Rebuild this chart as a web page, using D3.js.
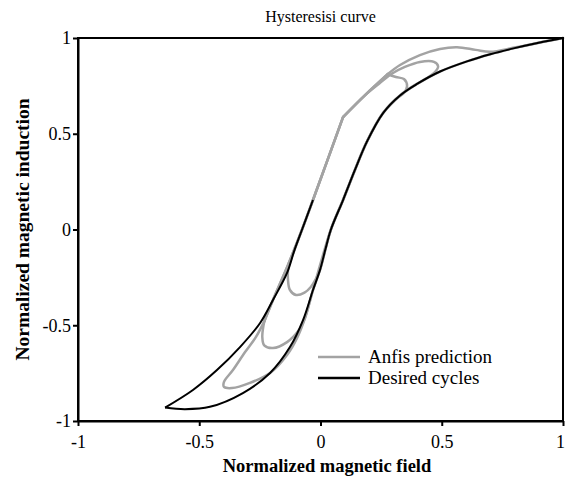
<!DOCTYPE html>
<html>
<head>
<meta charset="utf-8">
<script src="https://cdn.jsdelivr.net/npm/d3@7"></script>
<style>
    body { margin: 0; background: #fff; }
    text { font-family: "Liberation Serif", "Times New Roman", serif; fill: #000; }
</style>
</head>
<body>
<div id="chart"></div>
<script>
// desired cycles: descending branch (to the negative tip), then ascending branch up to saturation
var desiredDown = [[-0.031,0.154],[-0.076,0.0],[-0.108,-0.11],[-0.138,-0.227],[-0.196,-0.368],[-0.249,-0.488],
    [-0.332,-0.614],[-0.427,-0.734],[-0.526,-0.838],[-0.641,-0.930]];
var desiredUp = [[-0.641,-0.930],[-0.559,-0.938],[-0.456,-0.926],[-0.320,-0.854],[-0.208,-0.749],[-0.126,-0.614],
    [-0.072,-0.473],[-0.031,-0.316],[-0.002,-0.211],[0.02,-0.105],[0.043,0.0],[0.093,0.154],[0.142,0.311],[0.192,0.460],
    [0.258,0.608],[0.328,0.700],[0.398,0.760],[0.493,0.825],[0.604,0.878],[0.70,0.915],[0.80,0.947],[0.90,0.975],[1.0,1.0]];

// anfis prediction, one continuous path with minor loops
var anfisPrediction = [
    [1.0,1.0],[0.90,0.975],[0.80,0.950],[0.70,0.928],[0.640,0.938],[0.563,0.952],[0.493,0.943],[0.410,0.911],
    [0.328,0.859],[0.278,0.812],[0.184,0.702],[0.093,0.587],[-0.031,0.154],[-0.076,0.0],[-0.118,-0.144],[-0.132,-0.195],
    [-0.134,-0.264],[-0.126,-0.316],[-0.101,-0.342],[-0.066,-0.330],[-0.040,-0.300],[-0.020,-0.260],[-0.002,-0.211],
    [0.02,-0.105],[0.043,0.0],[0.093,0.154],[0.142,0.311],[0.192,0.460],[0.258,0.608],[0.328,0.700],[0.381,0.748],
    [0.431,0.785],[0.472,0.822],[0.485,0.852],[0.468,0.875],[0.410,0.875],[0.348,0.849],[0.299,0.817],[0.245,0.765],
    [0.184,0.702],[0.093,0.587],[-0.031,0.154],[-0.076,0.0],[-0.134,-0.185],[-0.196,-0.368],[-0.232,-0.480],
    [-0.240,-0.560],[-0.232,-0.605],[-0.196,-0.619],[-0.138,-0.588],[-0.089,-0.525],[-0.064,-0.462],[-0.031,-0.316],
    [-0.002,-0.211],[0.043,0.0],[0.093,0.154],[0.142,0.311],[0.192,0.460],[0.258,0.608],[0.311,0.681],
    [0.344,0.713],[0.357,0.749],[0.344,0.786],[0.311,0.796],[0.278,0.812],[0.184,0.702],[0.093,0.587],
    [-0.031,0.154],[-0.076,0.0],[-0.134,-0.185],[-0.196,-0.368],[-0.232,-0.480],
    [-0.266,-0.561],[-0.311,-0.640],[-0.361,-0.734],[-0.398,-0.796],[-0.398,-0.822],[-0.365,-0.828],[-0.291,-0.801],
    [-0.208,-0.749],[-0.138,-0.655],[-0.097,-0.567],[-0.064,-0.462],[-0.031,-0.316],[0.043,0.0],[0.093,0.154],
    [0.142,0.311],[0.192,0.460],[0.258,0.608],[0.328,0.700],[0.398,0.760],[0.493,0.825],[0.604,0.878],[0.70,0.915],
    [0.80,0.947],[0.90,0.975],[1.0,1.0]];
// sharp corners of the prediction (polyline kinks)
var anfisCorners = [[0.093,0.587],[0.278,0.812],[-0.232,-0.480]];

var xTicks = [-1, -0.5, 0, 0.5, 1];
var yTicks = [-1, -0.5, 0, 0.5, 1];
var legendLabels = ['Anfis prediction', 'Desired cycles'];
var legendColors = ['#a3a3a3', '#000'];

var width = 566, height = 481;
var margin = {top: 38, right: 3, bottom: 60, left: 78};

var svg = d3.select('#chart').append('svg')
    .attr('width', width)
    .attr('height', height);

var x = d3.scaleLinear().domain([-1, 1]).range([margin.left, width - margin.right]);
var y = d3.scaleLinear().domain([-1, 1]).range([height - margin.bottom, margin.top]);

var line = d3.line()
    .x(function(d){ return x(d[0]) })
    .y(function(d){ return y(d[1]) })
    .curve(d3.curveCatmullRom.alpha(0.5));

isCorner = function(p){
    return anfisCorners.some(function(c){ return c[0] == p[0] && c[1] == p[1] });
}

// cut the prediction at its corners so the smoothing keeps them sharp
var anfisPieces = [];
var piece = [];
anfisPrediction.forEach(function(p, i){
    piece.push(p);
    if (i > 0 && isCorner(p)) {
        anfisPieces.push(piece);
        piece = [p];
    }
});
anfisPieces.push(piece);

// anfis first, desired drawn over it
anfisPieces.forEach(function(seg){
    svg.append('path')
        .datum(seg)
        .attr('d', line)
        .attr('fill', 'none')
        .attr('stroke', legendColors[0])
        .attr('stroke-width', 2.5)
        .attr('stroke-linecap', 'round');
});

[desiredDown, desiredUp].forEach(function(branch){
    svg.append('path')
        .datum(branch)
        .attr('d', line)
        .attr('fill', 'none')
        .attr('stroke', legendColors[1])
        .attr('stroke-width', 2);
});

// box
svg.append('rect')
    .attr('x', x(-1))
    .attr('y', y(1))
    .attr('width', x(1) - x(-1))
    .attr('height', y(-1) - y(1))
    .attr('fill', 'none')
    .attr('stroke', '#000')
    .attr('stroke-width', 2);

var xAxis = svg.append('g')
    .attr('transform', 'translate(0,' + y(-1) + ')')
    .call(d3.axisBottom(x).tickValues(xTicks).tickSize(5).tickSizeOuter(0)
        .tickFormat(function(d){ return String(d) }));
var yAxis = svg.append('g')
    .attr('transform', 'translate(' + x(-1) + ',0)')
    .call(d3.axisLeft(y).tickValues(yTicks).tickSize(5).tickSizeOuter(0)
        .tickFormat(function(d){ return String(d) }));

[xAxis, yAxis].forEach(function(ax){
    ax.select('.domain').attr('stroke-width', 2);
    ax.selectAll('.tick line').attr('stroke-width', 2);
    ax.selectAll('.tick text')
        .attr('font-size', '18px')
        .style('font-family', '"Liberation Serif", serif');
});
xAxis.selectAll('.tick text').attr('y', 11).attr('dy', '0.9em');
xAxis.selectAll('.tick text').filter(function(d){ return d == 1 }).attr('x', -3);
yAxis.selectAll('.tick text').attr('x', -7);

svg.append('text')
    .attr('x', (x(-1) + x(1)) / 2)
    .attr('y', 22)
    .attr('text-anchor', 'middle')
    .attr('font-size', '16px')
    .text('Hysteresisi curve');

svg.append('text')
    .attr('x', 327)
    .attr('y', 472)
    .attr('text-anchor', 'middle')
    .attr('font-size', '18.5px')
    .attr('font-weight', 'bold')
    .text('Normalized magnetic field');

svg.append('text')
    .attr('transform', 'translate(29,' + y(0) + ') rotate(-90)')
    .attr('text-anchor', 'middle')
    .attr('font-size', '19.5px')
    .attr('font-weight', 'bold')
    .text('Normalized magnetic induction');

// legend
var legend = svg.append('g').attr('transform', 'translate(318,357)');
legendLabels.forEach(function(label, i){
    legend.append('line')
        .attr('x1', 0).attr('x2', 42)
        .attr('y1', i * 21).attr('y2', i * 21)
        .attr('stroke', legendColors[i])
        .attr('stroke-width', 2.5);
    legend.append('text')
        .attr('x', 50)
        .attr('y', i * 21 + 6)
        .attr('font-size', '19px')
        .text(label);
});
</script>
</body>
</html>
